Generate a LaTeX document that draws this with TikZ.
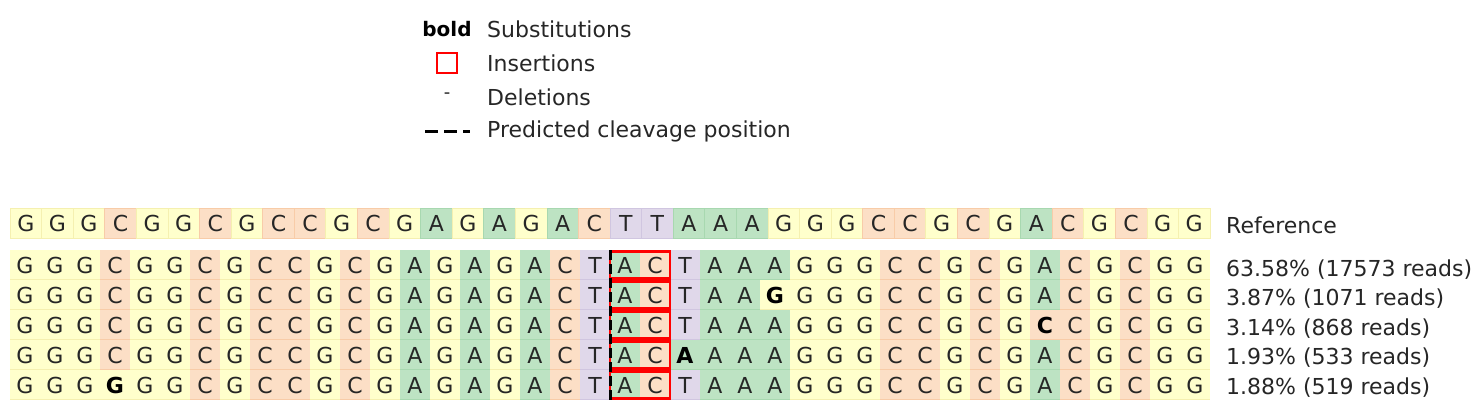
\documentclass[tikz,border=0pt]{standalone}
\usepackage{fontspec}
\setmainfont{DejaVu Sans}
\begin{document}
\definecolor{cA}{HTML}{BDE3C3}\definecolor{bA}{HTML}{A8D8B0}
\definecolor{cC}{HTML}{FCDFC6}\definecolor{bC}{HTML}{F8CCA8}
\definecolor{cG}{HTML}{FFFFCC}\definecolor{bG}{HTML}{F5F0B0}
\definecolor{cT}{HTML}{E0D8EA}\definecolor{bT}{HTML}{D0C6E0}
\definecolor{txt}{HTML}{262626}
\begin{tikzpicture}[x=1pt,y=-1pt,
  base/.style={font=\fontsize{22}{22}\selectfont, text=txt},
  lab/.style={font=\fontsize{22}{22}\selectfont, text=txt, anchor=west, inner sep=0},
  sub/.style={font=\fontsize{22}{22}\selectfont\bfseries, text=black}]
\useasboundingbox (0,0) rectangle (1484,413);
% legend
\node[font=\fontsize{20}{20}\selectfont\bfseries] (lb) at (447,29) {bold};
\node[lab] (l1) at (487,29) {Substitutions};
\node[draw=red,line width=2.5pt,minimum size=20pt,inner sep=0] (lr) at (447,63) {};
\node[lab] (l2) at (487,63) {Insertions};
\node[base,font=\fontsize{18}{18}\selectfont] (ld) at (447,96) {-};
\node[lab] (l3) at (487,97) {Deletions};
\coordinate (la) at (425,131); \coordinate (lbb) at (470,131);
\draw[line width=3pt,dash pattern=on 13pt off 6pt] (la) -- (lbb);
\node[lab] (l4) at (487,131) {Predicted cleavage position};
% reference
\foreach \b [count=\i] in {G,G,G,C,G,G,C,G,C,C,G,C,G,A,G,A,G,A,C,T,T,A,A,A,G,G,G,C,C,G,C,G,A,C,G,C,G,G}{
  \pgfmathsetmacro\xx{10+(\i-1)*31.5789}
  \fill[c\b,draw=b\b,line width=0.6pt] (\xx,208) rectangle ++(31.5789,30);
  \node[base] (r\i) at (\xx+15.8,223) {\b};
}
\node[lab] (rl) at (1226,225) {Reference};
% alleles
\foreach \row/\seq/\sb [count=\r] in {
 1/{G,G,G,C,G,G,C,G,C,C,G,C,G,A,G,A,G,A,C,T,A,C,T,A,A,A,G,G,G,C,C,G,C,G,A,C,G,C,G,G}/0,
 2/{G,G,G,C,G,G,C,G,C,C,G,C,G,A,G,A,G,A,C,T,A,C,T,A,A,G,G,G,G,C,C,G,C,G,A,C,G,C,G,G}/26,
 3/{G,G,G,C,G,G,C,G,C,C,G,C,G,A,G,A,G,A,C,T,A,C,T,A,A,A,G,G,G,C,C,G,C,G,C,C,G,C,G,G}/35,
 4/{G,G,G,C,G,G,C,G,C,C,G,C,G,A,G,A,G,A,C,T,A,C,A,A,A,A,G,G,G,C,C,G,C,G,A,C,G,C,G,G}/23,
 5/{G,G,G,G,G,G,C,G,C,C,G,C,G,A,G,A,G,A,C,T,A,C,T,A,A,A,G,G,G,C,C,G,C,G,A,C,G,C,G,G}/4}{
  \pgfmathsetmacro\yy{250+(\r-1)*30}
  \foreach \b [count=\i] in \seq {
    \pgfmathsetmacro\xx{10+(\i-1)*30}
    \fill[c\b] (\xx,\yy) rectangle ++(30,30);
    \draw[b\b,line width=0.6pt] (\xx,\yy+29.7) -- ++(30,0);
    \ifnum\i=\sb
      \node[sub] (a\r-\i) at (\xx+15,\yy+15) {\b};
    \else
      \node[base] (a\r-\i) at (\xx+15,\yy+15) {\b};
    \fi
  }
  \draw[red,line width=2.2pt] (610,\yy+1.5) rectangle (670,\yy+28.5);
}
\coordinate (ct) at (610,250); \coordinate (cb) at (610,400);
\draw[line width=3pt,dash pattern=on 10pt off 4pt] (ct) -- (cb);
\node[lab] (p1) at (1226,270) {63.58\% (17573 reads)};
\node[lab] (p2) at (1226,299) {3.87\% (1071 reads)};
\node[lab] (p3) at (1226,329) {3.14\% (868 reads)};
\node[lab] (p4) at (1226,358) {1.93\% (533 reads)};
\node[lab] (p5) at (1226,388) {1.88\% (519 reads)};
\end{tikzpicture}
\end{document}
